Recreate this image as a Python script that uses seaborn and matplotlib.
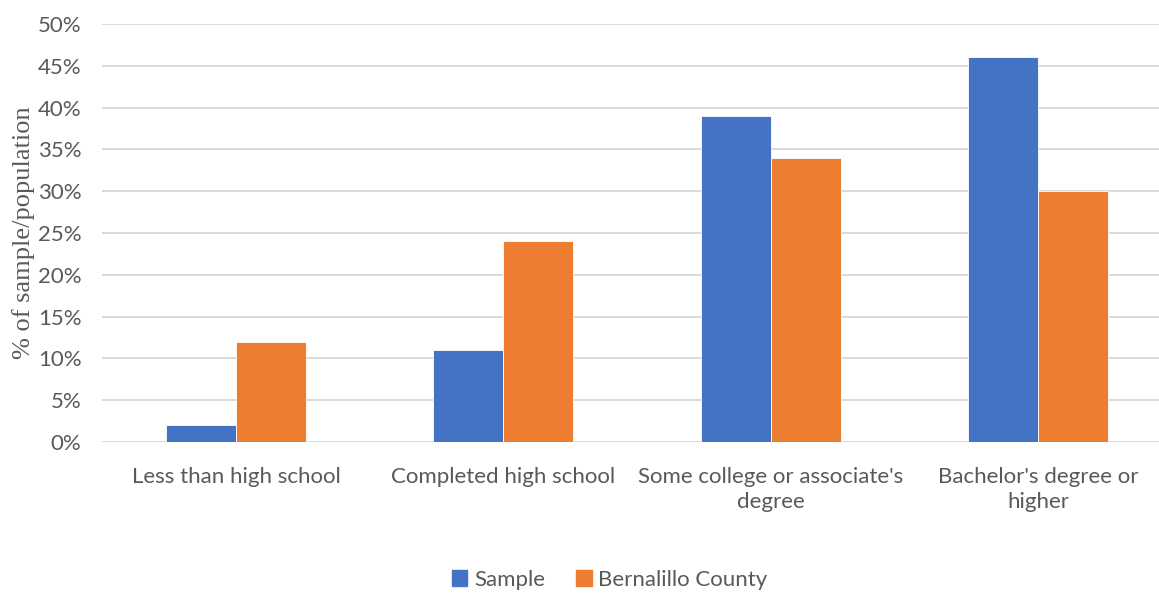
import matplotlib
matplotlib.use("Agg")
import matplotlib.pyplot as plt
import seaborn as sns
import pandas as pd
from matplotlib.ticker import PercentFormatter
from matplotlib.patches import Patch

categories = ["Less than high school", "Completed high school",
              "Some college or associate's\ndegree", "Bachelor's degree or\nhigher"]
series = ["Sample", "Bernalillo County"]
sample = [2, 11, 39, 46]
county = [12, 24, 34, 30]
colors = ["#4472C4", "#ED7D31"]

df = pd.DataFrame({
    "category": categories * 2,
    "group": [series[0]] * 4 + [series[1]] * 4,
    "value": sample + county,
})

sns.set_style("white")
plt.rcParams["font.family"] = ["Lato", "DejaVu Sans"]

fig = plt.figure(figsize=(11.59, 5.93), dpi=100)
ax = fig.add_axes([102.3 / 1159, 1 - 442 / 593, (1171.7 - 102.3) / 1159, (442 - 24) / 593])

sns.barplot(data=df, x="category", y="value", hue="group", palette=colors,
            width=0.524, ax=ax, legend=False, edgecolor="white", linewidth=0.6,
            saturation=1)

ax.set_ylim(0, 50)
ax.set_xlim(-0.5, 3.5)
ax.set_yticks(range(0, 51, 5))
ax.yaxis.set_major_formatter(PercentFormatter(decimals=0))
ax.grid(axis="y", color="#D9D9D9", linewidth=1.4)
ax.set_axisbelow(True)
for s in ax.spines.values():
    s.set_visible(False)
ax.tick_params(axis="both", length=0, labelsize=16, labelcolor="#595959")
ax.tick_params(axis="y", pad=15)
ax.tick_params(axis="x", pad=18)
for t in ax.get_xticklabels():
    t.set_linespacing(1.3)
ax.set_xlabel("")
ax.set_ylabel("% of sample/population", family="Liberation Serif", fontsize=19,
              color="#595959", labelpad=2)

handles = [Patch(color=c, label=l) for c, l in zip(colors, series)]
fig.legend(handles=handles, loc="center", bbox_to_anchor=(0.526, 1 - 580 / 593),
           ncol=2, frameon=False, fontsize=16, handlelength=0.7, handleheight=0.7,
           columnspacing=1.4, handletextpad=0.3, labelcolor="#595959")

fig.savefig("out.png", dpi=100)
